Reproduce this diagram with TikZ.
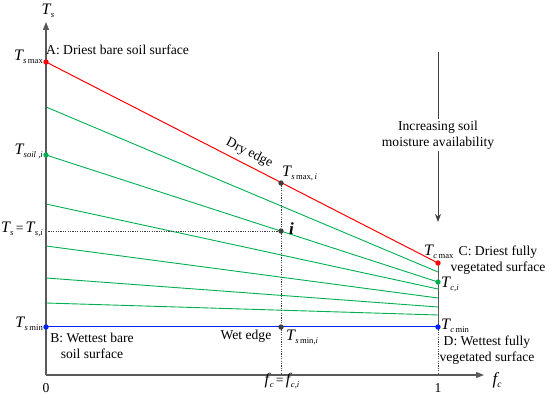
\documentclass[tikz,border=0pt]{standalone}
\usepackage{fontspec}
\setmainfont{Liberation Serif}
\usetikzlibrary{arrows.meta}
\definecolor{axgray}{HTML}{595959}
\definecolor{dryred}{HTML}{FF0000}
\definecolor{vgreen}{HTML}{00B050}
\definecolor{wetblue}{HTML}{0022FF}
\definecolor{dotgray}{HTML}{3F3F3F}
\newcommand{\TT}[1]{{\fontsize{16}{16}\selectfont\itshape T}\kern0.02em\raisebox{-0.5ex}{\fontsize{8.6}{9}\selectfont #1}}
\newcommand{\FF}[1]{{\fontsize{16}{16}\selectfont\itshape f}\kern0.05em\raisebox{-0.5ex}{\fontsize{8.6}{9}\selectfont\itshape #1}}
\begin{document}
\begin{tikzpicture}[x=1pt,y=-1pt,font=\fontsize{13.6}{16}\selectfont,
  axis/.style={draw=axgray,line width=1.2pt,-{Triangle[length=8pt,width=6pt]}},
  dryline/.style={draw=dryred,line width=1pt},
  wetline/.style={draw=wetblue,line width=1pt},
  greenline/.style={draw=vgreen,line width=0.9pt},
  guide/.style={draw=dotgray,line width=0.9pt,dash pattern=on 1.2pt off 1.2pt},
  edgeline/.style={draw=axgray,line width=1pt},
  lbl/.style={inner sep=2pt},
  dotmark/.style={radius=2.7pt}]
\useasboundingbox (0,0) rectangle (550,395);
% coordinates
\coordinate (O) at (46,375);
\coordinate (Ytop) at (46,22);
\coordinate (Xend) at (484,375);
\coordinate (A) at (46,62);
\coordinate (C) at (438,263);
\coordinate (B) at (46,327);
\coordinate (D) at (438,327);
\coordinate (X1) at (438,375);
\coordinate (Si) at (46,155);
\coordinate (Ci) at (438,282);
\coordinate (Smaxi) at (281,183);
\coordinate (Pi) at (281,231);
\coordinate (Smini) at (281,327);
\coordinate (Fi) at (281,375);
\coordinate (Yi) at (46,231);
\coordinate (G1a) at (46,107); \coordinate (G1b) at (438,272);
\coordinate (G3a) at (46,204); \coordinate (G3b) at (438,289);
\coordinate (G4a) at (46,246); \coordinate (G4b) at (438,298);
\coordinate (G5a) at (46,278); \coordinate (G5b) at (438,307);
\coordinate (G6a) at (46,303); \coordinate (G6b) at (438,315);
% green lines
\draw[greenline] (G1a) -- (G1b);
\draw[greenline] (Si) -- (Ci);
\draw[greenline] (G3a) -- (G3b);
\draw[greenline] (G4a) -- (G4b);
\draw[greenline] (G5a) -- (G5b);
\draw[greenline] (G6a) -- (G6b);
% dry and wet edges
\draw[dryline] (A) -- node[pos=0.505,sloped,above=5pt,inner sep=0pt,text=black] (dry) {Dry edge} (C);
\draw[wetline] (B) -- (D);
% guides
\draw[guide] (Smaxi) -- (Fi);
\draw[guide] (Yi) -- (Pi);
\draw[guide] (D) -- (X1);
\draw[edgeline] (C) -- (D);
% axes
\draw[axis] (O) -- (Ytop);
\draw[axis] (O) -- (Xend);
% moisture arrow
\node[lbl,align=center] (moist) at (438,135) {Increasing soil\\moisture availability};
\coordinate (M1) at (438,52);
\coordinate (M4) at (438,222);
\draw[draw=dotgray,line width=1pt] (M1) -- (moist.north);
\draw[draw=dotgray,line width=1pt,-{Stealth[length=8pt,width=6pt]}] (moist.south) -- (M4);
% dots
\fill[dryred] (A) circle[dotmark];
\fill[dryred] (C) circle[dotmark];
\fill[wetblue] (B) circle[dotmark];
\fill[wetblue] (D) circle[dotmark];
\fill[vgreen] (Si) circle[dotmark];
\fill[vgreen] (Ci) circle[dotmark];
\fill[dotgray] (Smaxi) circle[dotmark];
\fill[dotgray] (Pi) circle[dotmark];
\fill[dotgray] (Smini) circle[dotmark];
% labels
\node[lbl] (tsaxis) at (48,11) {\TT{\itshape s}};
\node[lbl,anchor=east] (tsmax) at (45,57) {\TT{{\itshape s}\,max}};
\node[lbl,anchor=west] (labA) at (44,50) {A: Driest bare soil surface};
\node[lbl,anchor=east] (tsoil) at (45,151) {\TT{\itshape soil ,i}};
\node[lbl,anchor=east] (tseq) at (45,229) {\TT{\itshape s}\,{=}\,\TT{\itshape s,i}};
\node[lbl,anchor=east] (tsmin) at (45,324) {\TT{{\itshape s}\,min}};
\node[lbl,align=center] (labB) at (92,346) {B: Wettest bare\\soil surface};
\node[lbl] (wet) at (246,336) {Wet edge};
\node[lbl,anchor=west] (tsmini) at (284,337) {\TT{{\itshape s}\,min,{\itshape i}}};
\node[lbl] (fceq) at (282,381) {\FF{c}\,{=}\,\FF{c,i}};
\node[lbl] (zero) at (46,388) {0};
\node[lbl] (one) at (438,388) {1};
\node[lbl] (fcaxis) at (497,380) {{\fontsize{17}{17}\selectfont\itshape f}\raisebox{-0.5ex}{\fontsize{9.5}{9.5}\selectfont\itshape c}};
\node[lbl,anchor=west] (tsmaxi) at (280,173) {\TT{{\itshape s}\,max,\,{\itshape i}}};
\node[lbl,anchor=west] (ilabel) at (287,229) {\fontsize{17}{17}\selectfont\bfseries\itshape i};
\node[lbl,anchor=west] (tcmax) at (422,252) {\TT{{\itshape c}\,max}};
\node[lbl,align=center] (labC) at (498,260) {C: Driest fully\\vegetated surface};
\node[lbl,anchor=west] (tci) at (439,284) {\TT{\itshape c,i}};
\node[lbl,anchor=west] (tcmin) at (439,326) {\TT{{\itshape c}\,min}};
\node[lbl,align=center] (labD) at (487,350) {D: Wettest fully\\vegetated surface};
\end{tikzpicture}
\end{document}
